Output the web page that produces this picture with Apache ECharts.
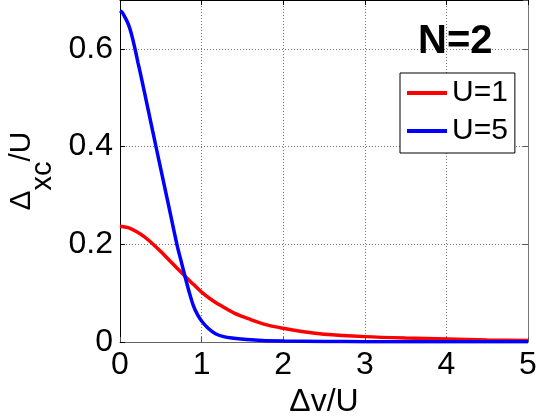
<!DOCTYPE html>
<html>
<head>
<meta charset="utf-8">
<script src="https://cdn.jsdelivr.net/npm/echarts@6/dist/echarts.min.js"></script>
<style>
html,body{margin:0;padding:0;background:#fff;}
#c{width:537px;height:420px;}
</style>
</head>
<body>
<div id="c"></div>
<script>
// ---- data ----
var seriesNames = ['U=1', 'U=5'];
var xU1 = [0, 0.1, 0.2, 0.3, 0.4, 0.5, 0.6, 0.7, 0.8, 0.9, 1.0, 1.1, 1.2, 1.4, 1.6, 1.8, 2.0, 2.25, 2.5, 3.0, 3.5, 4.0, 4.5, 5.0];
var yU1 = [0.237, 0.234, 0.226, 0.215, 0.201, 0.185, 0.168, 0.151, 0.134, 0.118, 0.102, 0.089, 0.078, 0.059, 0.046, 0.035, 0.028, 0.021, 0.016, 0.011, 0.008, 0.006, 0.004, 0.003];
var xU5 = [0, 0.03, 0.06, 0.09, 0.12, 0.15, 0.184, 0.22, 0.25, 0.3, 0.4, 0.5, 0.6, 0.7, 0.75, 0.8, 0.85, 0.9, 0.95, 1.0, 1.08, 1.17, 1.27, 1.37, 1.55, 1.74, 2.0, 2.5, 3.0, 4.0, 5.0];
var yU5 = [0.678, 0.674, 0.665, 0.655, 0.642, 0.624, 0.600, 0.572, 0.550, 0.511, 0.432, 0.354, 0.276, 0.198, 0.165, 0.132, 0.101, 0.074, 0.056, 0.043, 0.028, 0.017, 0.011, 0.008, 0.005, 0.003, 0.002, 0.001, 0.0007, 0.0004, 0.0003];
var xTicks = [0, 1, 2, 3, 4, 5];
var yTickLabels = ['0', '0.2', '0.4', '0.6'];
var panelLabel = 'N=2';

function pairs(xs, ys) { return xs.map(function (x, i) { return [x, ys[i]]; }); }

var FONT = '"Liberation Sans", Arial, Helvetica, sans-serif';
var chart = echarts.init(document.getElementById('c'), null, {renderer: 'canvas'});
chart.setOption({
  animation: false,
  backgroundColor: '#ffffff',
  textStyle: {fontFamily: FONT, color: '#000'},
  title: {
    text: panelLabel, left: 418, top: 22, padding: 0,
    textStyle: {fontFamily: FONT, fontSize: 40, fontWeight: 'bold', color: '#000', lineHeight: 40}
  },
  grid: {left: 120, right: 9, top: 0, bottom: 78, containLabel: false, outerBoundsMode: 'none'},
  legend: {
    data: seriesNames, orient: 'vertical', left: 400, top: 73,
    backgroundColor: '#fff', borderColor: '#000', borderWidth: 1,
    padding: [5, 7, 7, 7], itemGap: 8, itemWidth: 40, itemHeight: 4,
    icon: 'rect',
    textStyle: {fontFamily: FONT, fontSize: 30, lineHeight: 30, color: '#000'}
  },
  xAxis: [{
    type: 'value', min: 0, max: 5, interval: 1,
    name: 'Δv/U', nameLocation: 'middle', nameGap: 42,
    nameTextStyle: {fontFamily: FONT, fontSize: 32, color: '#000', lineHeight: 32},
    axisLine: {show: true, onZero: false, lineStyle: {color: '#666', width: 1}},
    axisTick: {show: true, inside: true, length: 5, lineStyle: {color: '#555'}},
    axisLabel: {fontFamily: FONT, fontSize: 32, color: '#000', margin: 7, lineHeight: 32,
      formatter: function (v) { return xTicks.indexOf(v) >= 0 ? String(v) : ''; }},
    splitLine: {show: true, lineStyle: {color: '#777', width: 1, type: [1, 2]}}
  }, {
    type: 'value', min: 0, max: 5, interval: 1, position: 'top',
    axisLine: {show: true, onZero: false, lineStyle: {color: '#000', width: 1}},
    axisTick: {show: true, inside: true, length: 5, lineStyle: {color: '#000'}},
    axisLabel: {show: false}, splitLine: {show: false}
  }],
  yAxis: [{
    type: 'value', min: 0, max: 0.7, interval: 0.2,
    name: '{d|Δ}{s|xc}{d|/U}', nameLocation: 'middle', nameGap: 62, nameRotate: 90,
    nameTextStyle: {
      fontFamily: FONT, color: '#000', fontSize: 30,
      rich: {
        d: {fontFamily: FONT, fontSize: 30, lineHeight: 30, verticalAlign: 'top', color: '#000'},
        s: {fontFamily: FONT, fontSize: 29, lineHeight: 51, verticalAlign: 'bottom', color: '#000'}
      }
    },
    axisLine: {show: true, onZero: false, lineStyle: {color: '#000', width: 1}},
    axisTick: {show: true, inside: true, length: 5, lineStyle: {color: '#000'}},
    axisLabel: {fontFamily: FONT, fontSize: 32, color: '#000', margin: 7,
      formatter: function (v) {
        var s = String(Math.round(v * 10) / 10);
        return yTickLabels.indexOf(s) >= 0 ? s : '';
      }},
    splitLine: {show: true, lineStyle: {color: '#777', width: 1, type: [1, 2]}}
  }, {
    type: 'value', min: 0, max: 0.7, interval: 0.2, position: 'right',
    axisLine: {show: true, onZero: false, lineStyle: {color: '#777', width: 1}},
    axisTick: {show: true, inside: true, length: 5, lineStyle: {color: '#555'}},
    axisLabel: {show: false}, splitLine: {show: false}
  }],
  series: [{
    name: seriesNames[0], type: 'line', data: pairs(xU1, yU1),
    xAxisIndex: 0, yAxisIndex: 0, showSymbol: false, smooth: 0.3,
    lineStyle: {color: '#ff0000', width: 3.5}, itemStyle: {color: '#ff0000'}
  }, {
    name: seriesNames[1], type: 'line', data: pairs(xU5, yU5),
    xAxisIndex: 0, yAxisIndex: 0, showSymbol: false, smooth: 0.3,
    lineStyle: {color: '#0000ff', width: 3.5}, itemStyle: {color: '#0000ff'}
  }]
});
</script>
</body>
</html>
